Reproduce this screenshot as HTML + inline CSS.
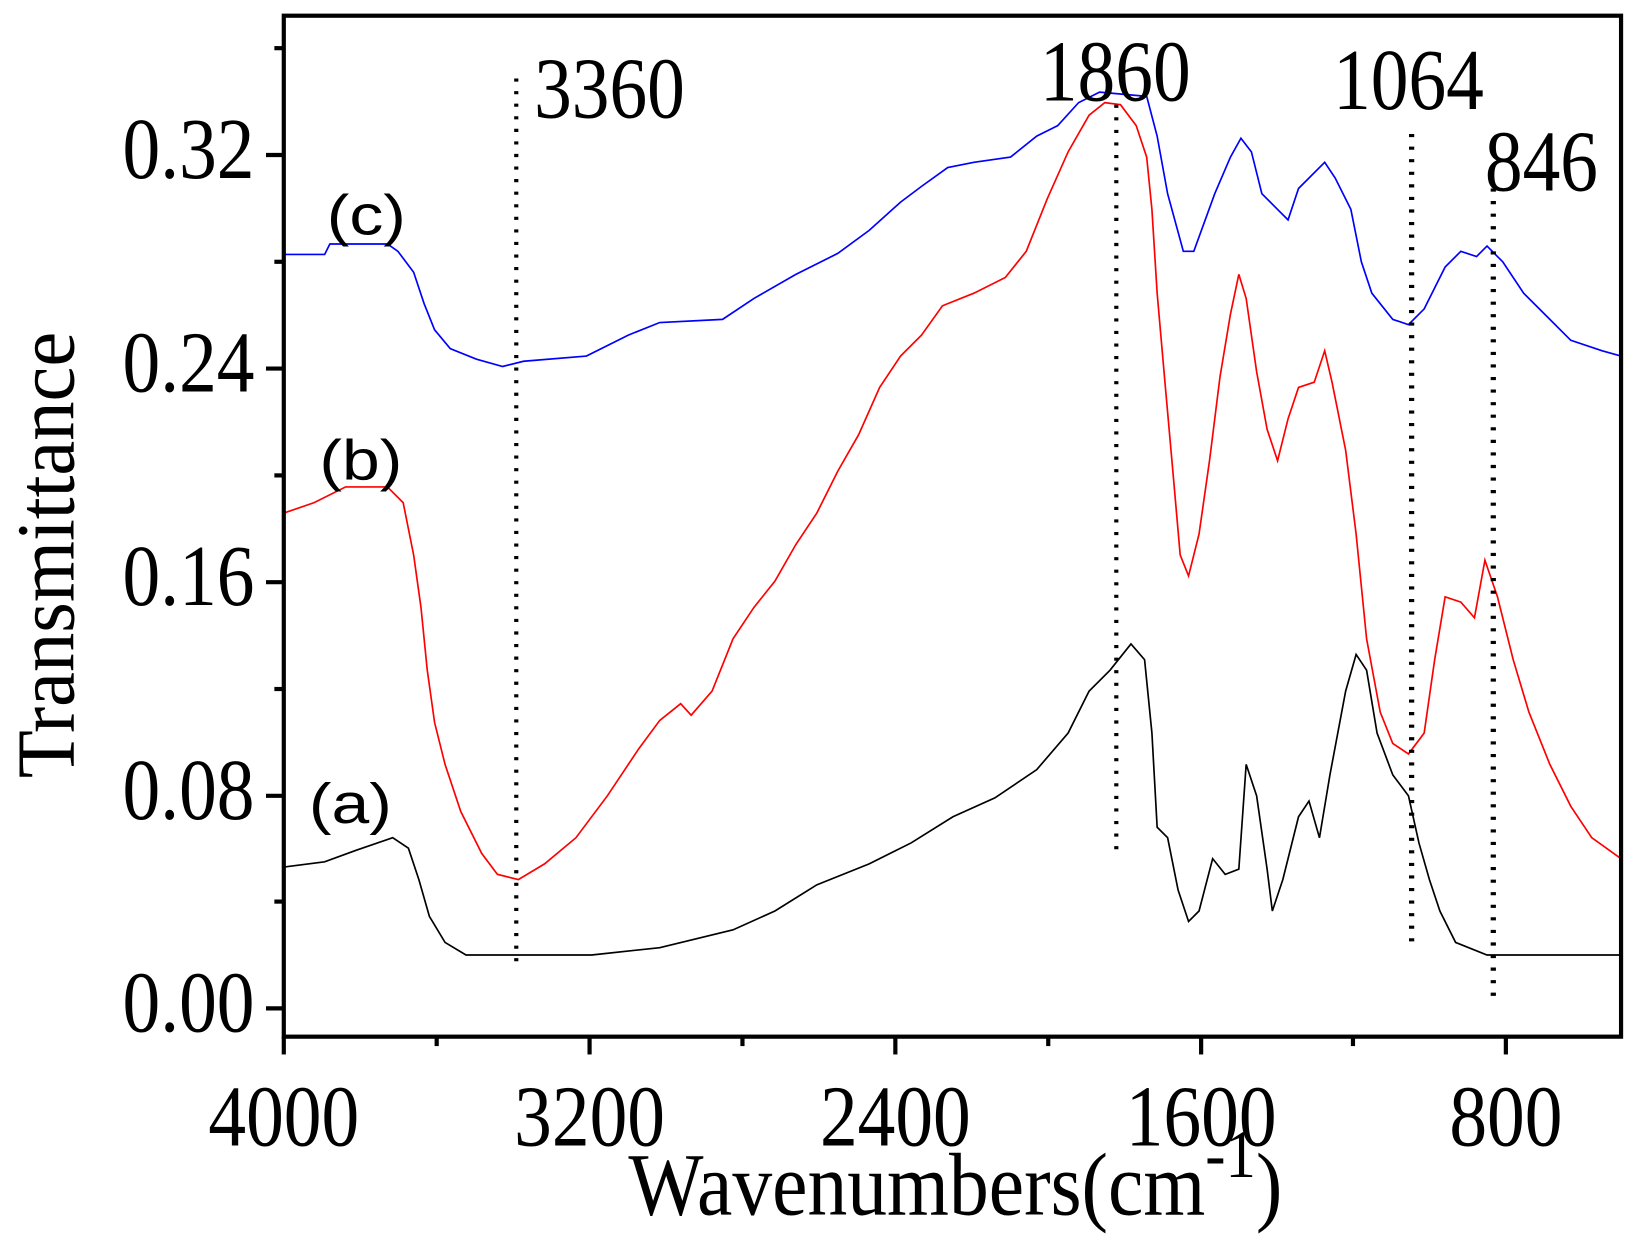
<!DOCTYPE html>
<html><head><meta charset="utf-8"><style>html,body{margin:0;padding:0;background:#fff}svg{display:block}</style></head>
<body>
<svg width="1642" height="1244" viewBox="0 0 1568 1188" preserveAspectRatio="none" xmlns="http://www.w3.org/2000/svg">
<rect width="1568" height="1188" fill="#fff"/>
<g fill="none" stroke-width="1.6">
<polyline stroke="#0000ff" points="271,243 310,243 315,233 370,233 380,240 395,260 405,290 415,315 430,333 455,343 480,350 500,345 560,340 600,320 630,308 690,305 720,285 760,262 800,242 830,220 860,193 880,178 905,160 930,155 965,150 990,130 1010,120 1030,98 1050,88 1095,92 1105,130 1115,185 1130,240 1140,240 1160,185 1175,150 1185,132 1195,145 1205,185 1220,200 1230,210 1240,180 1265,155 1275,170 1290,200 1300,250 1310,280 1330,305 1345,310 1360,295 1380,255 1395,240 1410,245 1420,235 1435,250 1455,280 1475,300 1500,325 1530,335 1548,340"/>
<polyline stroke="#ff0000" points="271,490 300,480 330,465 370,465 385,480 395,530 402,580 408,640 415,690 425,730 440,775 460,815 475,835 495,840 520,825 550,800 580,760 610,715 630,688 650,672 660,683 680,660 700,610 720,580 740,555 760,520 780,490 800,450 820,415 840,370 860,340 880,320 900,292 930,280 960,265 980,240 1000,190 1020,145 1040,110 1055,98 1070,100 1085,120 1095,150 1100,200 1105,280 1112,360 1120,450 1127,530 1135,550 1145,510 1155,440 1165,360 1175,300 1183,262 1190,285 1200,355 1210,410 1220,440 1230,400 1240,370 1255,365 1265,335 1272,365 1285,430 1295,510 1305,610 1318,680 1330,710 1345,720 1360,700 1370,630 1380,570 1395,575 1408,590 1418,535 1430,570 1445,630 1460,680 1480,730 1500,770 1520,800 1548,820"/>
<polyline stroke="#000" points="271,828 310,823 340,812 375,800 390,810 400,840 410,875 425,900 445,912 565,912 630,905 700,888 740,870 780,845 830,825 870,805 910,780 950,762 990,735 1020,700 1040,660 1060,640 1080,615 1093,630 1100,700 1105,790 1115,800 1125,850 1135,880 1145,870 1158,820 1170,835 1183,830 1190,730 1200,760 1210,830 1215,870 1225,840 1240,780 1250,765 1260,800 1270,740 1285,660 1295,625 1305,640 1315,700 1330,740 1345,760 1355,805 1365,840 1375,870 1390,900 1420,912 1548,912"/>
</g>
<g stroke="#000" stroke-width="4" stroke-dasharray="3,9" fill="none">
<line x1="493" y1="75" x2="493" y2="920"/>
<line x1="1066" y1="100" x2="1066" y2="815"/>
<line x1="1348" y1="128" x2="1348" y2="900" stroke-width="5"/>
<line x1="1426" y1="180" x2="1426" y2="955" stroke-width="5"/>
</g>
<rect x="271" y="15" width="1277" height="975" fill="none" stroke="#000" stroke-width="4"/>
<g stroke="#000" stroke-width="4">
<line x1="254" y1="963" x2="271" y2="963"/><line x1="254" y1="760" x2="271" y2="760"/><line x1="254" y1="556" x2="271" y2="556"/><line x1="254" y1="352" x2="271" y2="352"/><line x1="254" y1="148" x2="271" y2="148"/>
<line x1="262" y1="861" x2="271" y2="861"/><line x1="262" y1="658" x2="271" y2="658"/><line x1="262" y1="454" x2="271" y2="454"/><line x1="262" y1="250" x2="271" y2="250"/><line x1="262" y1="46" x2="271" y2="46"/>
<line x1="271" y1="990" x2="271" y2="1007"/><line x1="563" y1="990" x2="563" y2="1007"/><line x1="855" y1="990" x2="855" y2="1007"/><line x1="1147" y1="990" x2="1147" y2="1007"/><line x1="1438" y1="990" x2="1438" y2="1007"/>
<line x1="417" y1="990" x2="417" y2="999"/><line x1="709" y1="990" x2="709" y2="999"/><line x1="1001" y1="990" x2="1001" y2="999"/><line x1="1292" y1="990" x2="1292" y2="999"/>
</g>
<g font-family="Liberation Serif, serif" font-size="72" fill="#000">
<g text-anchor="end">
<text transform="translate(243,985) scale(1,1.15)">0.00</text>
<text transform="translate(243,782) scale(1,1.15)">0.08</text>
<text transform="translate(243,578) scale(1,1.15)">0.16</text>
<text transform="translate(243,374) scale(1,1.15)">0.24</text>
<text transform="translate(243,170) scale(1,1.15)">0.32</text>
</g>
<g text-anchor="middle">
<text transform="translate(271,1094) scale(1,1.15)">4000</text>
<text transform="translate(563,1094) scale(1,1.15)">3200</text>
<text transform="translate(855,1094) scale(1,1.15)">2400</text>
<text transform="translate(1147,1094) scale(1,1.15)">1600</text>
<text transform="translate(1438,1094) scale(1,1.15)">800</text>
</g>
<text transform="translate(510,112) scale(1,1.15)">3360</text>
<text transform="translate(993,96) scale(1,1.15)">1860</text>
<text transform="translate(1273,104) scale(1,1.15)">1064</text>
<text transform="translate(1418,182) scale(1,1.15)">846</text>
<text transform="translate(600,1160) scale(1,1.12)" font-size="76">Wavenumbers(cm<tspan font-size="58" dy="-32">-1</tspan><tspan dy="32">)</tspan></text>
<text transform="translate(70,530) rotate(-90) scale(1,1.05)" text-anchor="middle" font-size="75">Transmittance</text>
</g>
<g font-family="Liberation Sans, sans-serif" font-size="54" fill="#000">
<text transform="translate(312,224) scale(1.2,1)">(c)</text>
<text transform="translate(305,458) scale(1.2,1)">(b)</text>
<text transform="translate(295,786) scale(1.2,1)">(a)</text>
</g>
</svg>
</body></html>
